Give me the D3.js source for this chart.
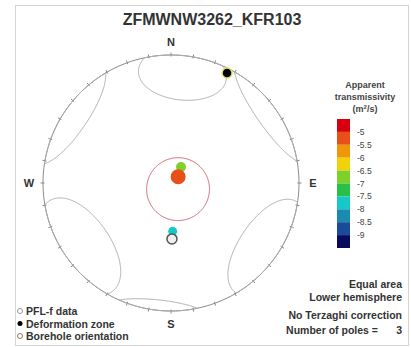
<!DOCTYPE html>
<html>
<head>
<meta charset="utf-8">
<script src="https://cdn.jsdelivr.net/npm/d3@7"></script>
<style>
  body { margin: 0; background: #fff; }
  svg { display: block; }
  text { font-family: Arial, "Liberation Sans", sans-serif; font-weight: bold; fill: #222; }
</style>
</head>
<body>
<svg id="chart" width="411" height="347"></svg>
<script>
// ---- data ----
const chartTitle = "ZFMWNW3262_KFR103";

// PFL-f poles (trend, plunge in degrees) and log10 apparent transmissivity
const poleTrend = [32, 49, 178];
const polePlunge = [78, 84, 59];
const poleLogT = [-6.8, -5.3, -7.7];

const zoneTrend = [27], zonePlunge = [4];
const boreTrend = [179], borePlunge = [54];

// small circles (axis trend, axis plunge, half angle)
const coneTrend = [6, 124, 235];
const conePlunge = [13, 6, 10];
const coneAngle = [22, 26, 27];
const ringTrend = [131], ringPlunge = [84], ringAngle = [20];

const binEdges = [-9, -8.5, -8, -7.5, -7, -6.5, -6, -5.5, -5];
const binColors = ["#0a0a5c", "#1a4a9a", "#1a8ab0", "#16c8c8", "#28c048",
                   "#80d02c", "#f0d20a", "#f0960a", "#e8501a", "#d8000f"];
const tickLabels = ["-5", "-5.5", "-6", "-6.5", "-7", "-7.5", "-8", "-8.5", "-9"];
const tickValues = [-5, -5.5, -6, -6.5, -7, -7.5, -8, -8.5, -9];

const compass = ["N", "E", "S", "W"];
const compassTrend = [0, 90, 180, 270];
const legendItems = ["PFL-f data", "Deformation zone", "Borehole orientation"];
const notes = ["Equal area", "Lower hemisphere", "No Terzaghi correction"];
const numberOfPoles = 3;

// ---- setup ----
const svg = d3.select("#chart");
const cx = 171, cy = 183, R = 128;

svg.append("rect").attr("x", 15.5).attr("y", 5.5).attr("width", 393).attr("height", 340)
  .attr("fill", "none").attr("stroke", "#d4d4d4");

svg.append("text").attr("x", 212).attr("y", 25).attr("text-anchor", "middle")
  .style("font-size", "16px").style("fill", "#333").text(chartTitle);

// lower hemisphere equal area net
const projection = d3.geoAzimuthalEqualArea()
  .rotate([0, -90])
  .clipAngle(90)
  .scale(R / Math.SQRT2)
  .translate([cx, cy]);
const path = d3.geoPath(projection);
const ll = (t, p) => [180 - t, p];

const color = d3.scaleThreshold().domain(binEdges).range(binColors);

// primitive circle
svg.append("path").datum({type: "Sphere"}).attr("d", path)
  .attr("fill", "none").attr("stroke", "#8a8a8a").attr("stroke-width", 1);

// ticks every 10 degrees
const tickTrends = d3.range(0, 360, 10);
svg.append("g").selectAll("line").data(tickTrends).enter().append("line")
  .each(function(t) {
    const [x, y] = projection(ll(t, 0.01));
    const ux = (x - cx) / R, uy = (y - cy) / R;
    d3.select(this).attr("x1", cx + ux * (R - 1.5)).attr("y1", cy + uy * (R - 1.5))
      .attr("x2", cx + ux * (R + 2.5)).attr("y2", cy + uy * (R + 2.5));
  })
  .attr("stroke", "#888").attr("stroke-width", 1);

// compass labels
svg.append("g").selectAll("text").data(compass).enter().append("text")
  .each(function(d, i) {
    const [x, y] = projection(ll(compassTrend[i], 0.01));
    const ux = (x - cx) / R, uy = (y - cy) / R;
    d3.select(this).attr("x", cx + ux * (R + 14)).attr("y", cy + uy * (R + 13) + 4);
  })
  .attr("text-anchor", "middle").style("font-size", "11px").style("fill", "#333").text(d => d);

// small circles (both nappes of each cone)
const cones = [];
coneTrend.forEach((t, i) => {
  cones.push(d3.geoCircle().center(ll(t, conePlunge[i])).radius(coneAngle[i]).precision(1)());
  cones.push(d3.geoCircle().center(ll(t + 180, -conePlunge[i])).radius(coneAngle[i]).precision(1)());
});
svg.append("g").selectAll("path").data(cones).enter().append("path")
  .attr("d", path).attr("fill", "none").attr("stroke", "#acacac").attr("stroke-width", 1);

svg.append("path")
  .datum(d3.geoCircle().center(ll(ringTrend[0], ringPlunge[0])).radius(ringAngle[0]).precision(1)())
  .attr("d", path).attr("fill", "none").attr("stroke", "#d06070").attr("stroke-width", 1);

// poles
const radii = [5, 7.5, 4.5];
svg.append("g").selectAll("circle").data(poleTrend).enter().append("circle")
  .attr("cx", (t, i) => projection(ll(t, polePlunge[i]))[0])
  .attr("cy", (t, i) => projection(ll(t, polePlunge[i]))[1])
  .attr("r", (t, i) => radii[i])
  .attr("fill", (t, i) => color(poleLogT[i]));

// borehole
svg.append("circle")
  .attr("cx", projection(ll(boreTrend[0], borePlunge[0]))[0])
  .attr("cy", projection(ll(boreTrend[0], borePlunge[0]))[1])
  .attr("r", 5).attr("fill", "#eeeeee").attr("stroke", "#555").attr("stroke-width", 1.5);

// deformation zone
svg.append("circle")
  .attr("cx", projection(ll(zoneTrend[0], zonePlunge[0]))[0])
  .attr("cy", projection(ll(zoneTrend[0], zonePlunge[0]))[1])
  .attr("r", 5).attr("fill", "#000").attr("stroke", "#e0e070").attr("stroke-width", 1.5);

// colour bar
const barY = d3.scaleLinear().domain([-4.5, -9.5]).range([119, 248]);
const binTops = [-4.5].concat(binEdges.slice().reverse());
const bar = svg.append("g");
bar.selectAll("rect").data(binTops).enter().append("rect")
  .attr("x", 337).attr("width", 13)
  .attr("y", d => barY(d)).attr("height", d => barY(d - 0.5) - barY(d))
  .attr("fill", d => color(d - 0.25));
bar.selectAll("text").data(tickValues).enter().append("text")
  .attr("x", 357).attr("y", d => barY(d) + 3)
  .style("font-size", "8.5px").style("font-weight", "normal").style("fill", "#444")
  .text((d, i) => tickLabels[i]);

const lt = svg.append("text").attr("text-anchor", "middle").style("font-size", "9px").style("fill", "#444");
lt.append("tspan").attr("x", 365).attr("y", 88).text("Apparent");
lt.append("tspan").attr("x", 365).attr("y", 100).text("transmissivity");
lt.append("tspan").attr("x", 365).attr("y", 112).text("(m");
lt.append("tspan").attr("dy", -3).style("font-size", "6px").text("2");
lt.append("tspan").attr("dy", 3).text("/s)");

// bottom-left legend
const legY = [311, 323.5, 336];
const leg = svg.append("g");
leg.append("circle").attr("cx", 20).attr("cy", legY[0]).attr("r", 2.5)
  .attr("fill", "#fff").attr("stroke", "#999");
leg.append("circle").attr("cx", 20).attr("cy", legY[1]).attr("r", 2.5).attr("fill", "#000");
leg.append("circle").attr("cx", 20).attr("cy", legY[2]).attr("r", 2.5)
  .attr("fill", "#fff").attr("stroke", "#8a7a5a");
leg.selectAll("text").data(legendItems).enter().append("text")
  .attr("x", 26).attr("y", (d, i) => legY[i] + 4)
  .style("font-size", "10.5px").style("fill", "#333").text(d => d);

// bottom-right notes
const noteY = [288, 301, 319];
svg.append("g").selectAll("text").data(notes).enter().append("text")
  .attr("x", 402).attr("y", (d, i) => noteY[i]).attr("text-anchor", "end")
  .style("font-size", "10.5px").style("fill", "#333").text(d => d);
svg.append("text").attr("x", 378).attr("y", 334).attr("text-anchor", "end")
  .style("font-size", "10.5px").style("fill", "#333").text("Number of poles =");
svg.append("text").attr("x", 402).attr("y", 334).attr("text-anchor", "end")
  .style("font-size", "10.5px").style("fill", "#333").text(numberOfPoles);
</script>
</body>
</html>
